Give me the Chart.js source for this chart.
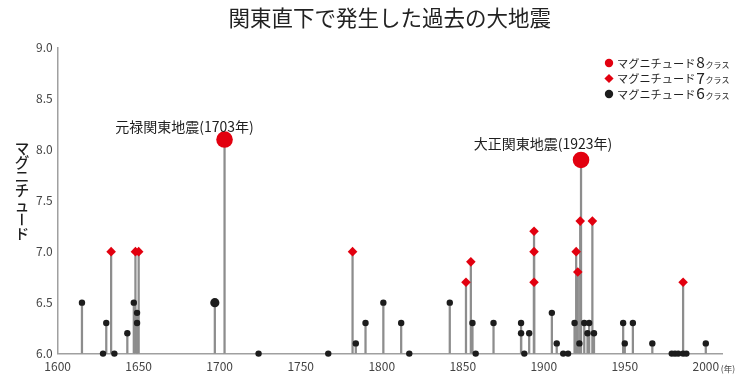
<!DOCTYPE html>
<html><head><meta charset="utf-8">
<script src="https://cdn.jsdelivr.net/npm/chart.js@4/dist/chart.umd.min.js"></script>
<style>html,body{margin:0;padding:0;background:#fff;}#wrap{width:750px;height:383px;}</style>
</head><body><div id="wrap"><canvas id="c" width="750" height="383"></canvas></div>
<script>
// ---- data ----
const titleText = '関東直下で発生した過去の大地震';
const yAxisTitle = 'マグニチュード';
const yearUnit = '(年)';
const class8Label = 'マグニチュード8クラス';
const class7Label = 'マグニチュード7クラス';
const class6Label = 'マグニチュード6クラス';
const class8Years = [1703, 1923];
const class8Mags  = [8.1, 7.9];
const class7Years = [1633, 1648, 1650, 1782, 1852, 1855, 1894, 1894, 1894, 1920, 1921, 1922.5, 1930, 1986];
const class7Mags  = [7.0, 7.0, 7.0, 7.0, 6.7, 6.9, 7.2, 7.0, 6.7, 7.0, 6.8, 7.3, 7.3, 6.7];
const class6Years = [1615, 1628, 1630, 1635, 1643, 1647, 1649, 1649, 1697, 1724, 1767, 1784, 1790, 1801, 1812, 1817, 1842, 1856, 1858, 1869, 1886, 1886, 1888, 1891, 1905, 1908, 1912, 1915, 1919, 1922, 1925, 1927, 1928, 1931, 1949, 1950, 1955, 1967, 1979, 1981, 1983, 1986, 1988, 2000];
const class6Mags  = [6.5, 6.0, 6.3, 6.0, 6.2, 6.5, 6.4, 6.3, 6.5, 6.0, 6.0, 6.1, 6.3, 6.5, 6.3, 6.0, 6.5, 6.3, 6.0, 6.3, 6.3, 6.2, 6.0, 6.2, 6.4, 6.1, 6.0, 6.0, 6.3, 6.1, 6.3, 6.2, 6.3, 6.2, 6.3, 6.1, 6.3, 6.1, 6.0, 6.0, 6.0, 6.0, 6.0, 6.1];
const xTickValues = [1600, 1650, 1700, 1750, 1800, 1850, 1900, 1950, 2000];
const yTickValues = [6.0, 6.5, 7.0, 7.5, 8.0, 8.5, 9.0];
const annotationTexts = ['元禄関東地震(1703年)', '大正関東地震(1923年)'];

// ---- build ----
const FONT = '"Noto Sans CJK JP", "Noto Sans", sans-serif';
const RED = '#e2000f';
const BLACK = '#1c1c1c';
const toPts = (xs, ys) => xs.map((x, i) => ({x: x, y: ys[i]}));
const allYears = class8Years.concat(class7Years, class6Years);
const allMags = class8Mags.concat(class7Mags, class6Mags);
const stemData = allYears.map((x, i) => ({x: x, y: [yTickValues[0], allMags[i]]}));

const legendPlugin = {
  id: 'splitLegend',
  afterDraw(chart, args, opts) {
    const ctx = chart.ctx;
    const items = chart.data.datasets.filter(d => d.inLegend);
    items.forEach((d, i) => {
      const x = opts.x, y = opts.y + i * opts.dy;
      ctx.save();
      ctx.fillStyle = d.backgroundColor;
      ctx.beginPath();
      if (d.pointStyle === 'rectRot') {
        const r = 4.6;
        ctx.moveTo(x - r, y); ctx.lineTo(x, y - r); ctx.lineTo(x + r, y); ctx.lineTo(x, y + r); ctx.closePath();
      } else {
        ctx.arc(x, y, 4.2, 0, Math.PI * 2);
      }
      ctx.fill();
      const m = d.label.match(/^(\D+)(\d)(\D+)$/);
      ctx.fillStyle = '#222';
      ctx.textBaseline = 'alphabetic';
      ctx.textAlign = 'left';
      let tx = x + 8;
      const base = y + 4.5;
      ctx.font = '11.2px ' + FONT;
      ctx.fillText(m[1], tx, base); tx += ctx.measureText(m[1]).width + 1;
      ctx.font = '15.5px ' + FONT;
      ctx.fillText(m[2], tx, base + 0.8); tx += ctx.measureText(m[2]).width + 0.5;
      ctx.font = '8px ' + FONT;
      ctx.fillText(m[3], tx, base);
      ctx.restore();
    });
  }
};

const textPlugin = {
  id: 'extraText',
  afterDraw(chart, args, opts) {
    const ctx = chart.ctx;
    const xs = chart.scales.x, ys = chart.scales.y;
    ctx.save();
    ctx.fillStyle = '#1e1e1e';
    ctx.font = '14px ' + FONT;
    ctx.textAlign = 'center';
    ctx.textBaseline = 'middle';
    annotationTexts.forEach((t, i) => {
      const px = xs.getPixelForValue(class8Years[i]) + opts.offsets[i][0];
      const py = ys.getPixelForValue(class8Mags[i]) + opts.offsets[i][1];
      ctx.fillText(t, px, py);
    });
    ctx.font = '500 14.5px ' + FONT;
    const chars = Array.from(yAxisTitle);
    chars.forEach((c, i) => {
      const cy = opts.yTitleTop + i * opts.yTitleStep;
      if (c === 'ー') {
        ctx.save(); ctx.translate(opts.yTitleX, cy); ctx.rotate(Math.PI / 2); ctx.fillText(c, 0, 0); ctx.restore();
      } else {
        ctx.fillText(c, opts.yTitleX, cy);
      }
    });
    ctx.font = '8.5px ' + FONT;
    ctx.fillStyle = '#444';
    ctx.textAlign = 'left';
    const lastTick = xTickValues[xTickValues.length - 1];
    ctx.fillText(yearUnit, xs.getPixelForValue(lastTick) + 15, xs.bottom - 11);
    ctx.restore();
  }
};

new Chart(document.getElementById('c'), {
  type: 'scatter',
  data: {
    datasets: [
      { type: 'scatter', label: class8Label, inLegend: true, data: toPts(class8Years, class8Mags),
        pointStyle: 'circle', pointRadius: 8.3, backgroundColor: RED, borderWidth: 0, order: 0, clip: false },
      { type: 'scatter', label: class7Label, inLegend: true, data: toPts(class7Years, class7Mags),
        pointStyle: 'rectRot', pointRadius: 4.8, backgroundColor: RED, borderWidth: 0, order: 1, clip: false },
      { type: 'scatter', label: class6Label, inLegend: true, data: toPts(class6Years, class6Mags),
        pointStyle: 'circle', backgroundColor: BLACK, borderWidth: 0, order: 2, clip: false,
        pointRadius: ctx => (ctx.raw && ctx.raw.x === 1697) ? 4.6 : 3.2 },
      { type: 'bar', label: 'stems', data: stemData, backgroundColor: '#8d8d8d', borderWidth: 0,
        barThickness: 1.6, order: 5, grouped: false }
    ]
  },
  options: {
    responsive: false,
    animation: false,
    devicePixelRatio: 1,
    events: [],
    layout: { padding: { left: 31, right: 28, top: 0, bottom: 3 } },
    plugins: {
      legend: { display: false },
      tooltip: { enabled: false },
      title: { display: true, text: titleText, fullSize: false, color: '#222',
        font: { family: FONT, size: 21.5, weight: '400' }, padding: { top: 5, bottom: 17 } },
      splitLegend: { x: 609, y: 63, dy: 15.5 },
      extraText: { offsets: [[-40, -13], [-38, -16]], yTitleX: 22, yTitleTop: 148, yTitleStep: 14.3 }
    },
    scales: {
      x: { type: 'linear', min: 1600, max: 2010, offset: false,
        grid: { display: false, drawTicks: false },
        border: { display: true, color: '#a0a0a0', width: 1.5 },
        afterBuildTicks: s => { s.ticks = xTickValues.map(v => ({ value: v })); },
        ticks: { color: '#444', padding: 6, autoSkip: false, maxRotation: 0,
          font: { family: FONT, size: 12 }, callback: v => String(v) } },
      y: { type: 'linear', min: 6, max: 9,
        grid: { display: false, drawTicks: false },
        border: { display: true, color: '#a0a0a0', width: 1.5 },
        afterBuildTicks: s => { s.ticks = yTickValues.map(v => ({ value: v })); },
        ticks: { color: '#444', padding: 5, font: { family: FONT, size: 12 },
          callback: v => Number(v).toFixed(1) } }
    }
  },
  plugins: [legendPlugin, textPlugin]
});
</script>
</body></html>
